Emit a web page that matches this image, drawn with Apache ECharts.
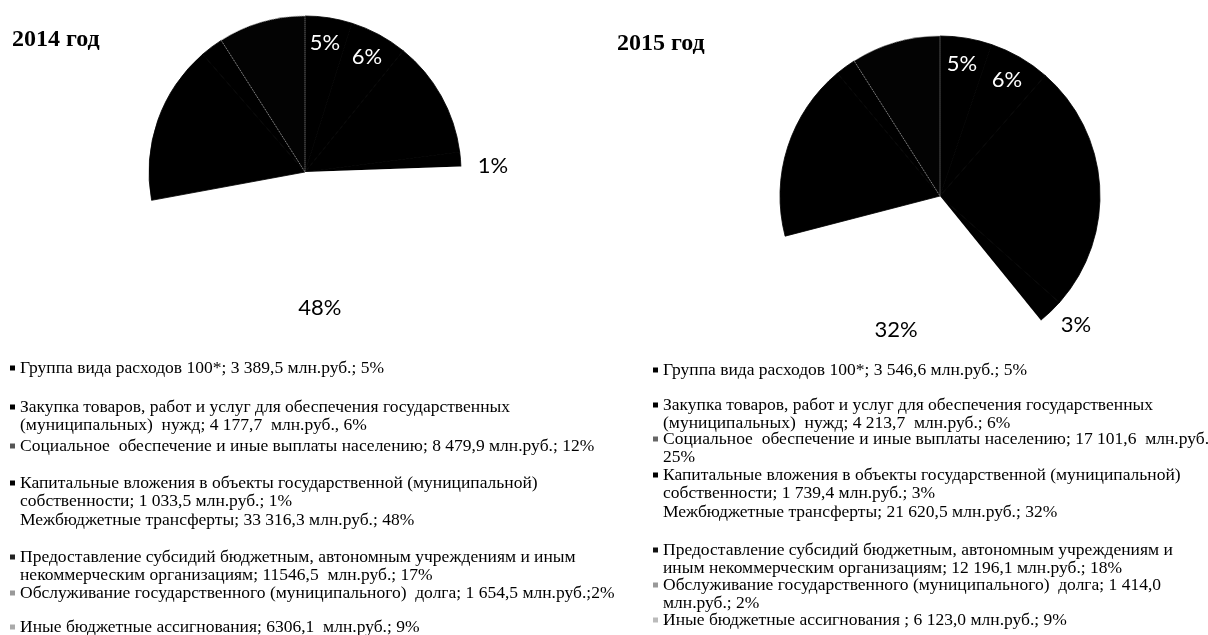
<!DOCTYPE html>
<html>
<head>
<meta charset="utf-8">
<script src="https://cdn.jsdelivr.net/npm/echarts@6/dist/echarts.min.js"></script>
<style>
html,body{margin:0;padding:0;background:#fff;}
#chart{width:1208px;height:635px;}
</style>
</head>
<body>
<div id="chart"></div>
<script>
// ---- data ----
const categories = [
  'Группа вида расходов 100*',
  'Закупка товаров, работ и услуг для обеспечения государственных (муниципальных) нужд',
  'Социальное обеспечение и иные выплаты населению',
  'Капитальные вложения в объекты государственной (муниципальной) собственности',
  'Межбюджетные трансферты',
  'Предоставление субсидий бюджетным, автономным учреждениям и иным некоммерческим организациям',
  'Обслуживание государственного (муниципального) долга',
  'Иные бюджетные ассигнования'
];
const years = ['2014 год', '2015 год'];
const values2014 = [3389.5, 4177.7, 8479.9, 1033.5, 33316.3, 11546.5, 1654.5, 6306.1];
const values2015 = [3546.6, 4213.7, 17101.6, 1739.4, 21620.5, 12196.1, 1414.0, 6123.0];
const legendText2014 = [
  'Группа вида расходов 100*; 3 389,5 млн.руб.; 5%',
  'Закупка товаров, работ и услуг для обеспечения государственных\n(муниципальных)  нужд; 4 177,7  млн.руб., 6%',
  'Социальное  обеспечение и иные выплаты населению; 8 479,9 млн.руб.; 12%',
  'Капитальные вложения в объекты государственной (муниципальной)\nсобственности; 1 033,5 млн.руб.; 1%',
  'Межбюджетные трансферты; 33 316,3 млн.руб.; 48%',
  'Предоставление субсидий бюджетным, автономным учреждениям и иным\nнекоммерческим организациям; 11546,5  млн.руб.; 17%',
  'Обслуживание государственного (муниципального)  долга; 1 654,5 млн.руб.;2%',
  'Иные бюджетные ассигнования; 6306,1  млн.руб.; 9%'
];
const legendText2015 = [
  'Группа вида расходов 100*; 3 546,6 млн.руб.; 5%',
  'Закупка товаров, работ и услуг для обеспечения государственных\n(муниципальных)  нужд; 4 213,7  млн.руб.; 6%',
  'Социальное  обеспечение и иные выплаты населению; 17 101,6  млн.руб.;\n25%',
  'Капитальные вложения в объекты государственной (муниципальной)\nсобственности; 1 739,4 млн.руб.; 3%',
  'Межбюджетные трансферты; 21 620,5 млн.руб.; 32%',
  'Предоставление субсидий бюджетным, автономным учреждениям и\nиным некоммерческим организациям; 12 196,1 млн.руб.; 18%',
  'Обслуживание государственного (муниципального)  долга; 1 414,0\nмлн.руб.; 2%',
  'Иные бюджетные ассигнования ; 6 123,0 млн.руб.; 9%'
];

// ---- styles / layout (not data) ----
const sliceColors = ['#000', '#000', '#000', '#000', '#fff', '#000', '#000', '#030303'];
const markerColors2014 = ['#000', '#000', '#555', '#000', '#fff', '#222', '#999', '#aaa'];
const markerColors2015 = ['#000', '#000', '#666', '#000', '#fff', '#111', '#999', '#bbb'];
const legendY2014 = [368, 407, 446, 483, 520, 557, 593, 627];
const legendY2015 = [370, 405, 439, 475, 512, 550, 585, 620];

const pies = [
  { values: values2014, center: [305, 172], r: 156, legend: legendText2014, markers: markerColors2014, ly: legendY2014, lx: 10, title: [12, 28],
    outFrac: 1.19, outFmt: '\n{d}%', outLH: 18, outPad: 0 },
  { values: values2015, center: [940, 196], r: 160, legend: legendText2015, markers: markerColors2015, ly: legendY2015, lx: 653, title: [617, 32],
    outFrac: 1.14, outFmt: '{d}%\n', outLH: 10, outPad: [0, 0, 0, 16] }
];
// label rings: which slices get a visible percentage, at which fraction of the radius, in which colour
const labelRings = [
  { idx: [0, 1], frac: 0.82, color: '#fff', outside: false },
  { idx: [4], frac: 0.86, color: '#000', outside: false },
  { idx: [3], frac: null, color: '#000', outside: true }
];

const LH = 18.5;
const series = [];
const legends = [];
const titles = [];

pies.forEach((p, k) => {
  titles.push({
    text: years[k], left: p.title[0], top: p.title[1], padding: 0,
    textStyle: { fontFamily: 'Liberation Serif', fontWeight: 'bold', fontSize: 24, color: '#000' }
  });
  // main pie
  series.push({
    type: 'pie', center: p.center, radius: p.r, startAngle: 90, clockwise: true,
    silent: true, avoidLabelOverlap: false, percentPrecision: 0,
    label: { show: false }, labelLine: { show: false },
    data: categories.map((c, i) => ({
      name: c, value: p.values[i],
      itemStyle: i === 7
        ? { color: sliceColors[i], borderColor: '#9a9a9a', borderWidth: 1, borderType: 'dotted' }
        : (sliceColors[i] === '#fff'
          ? { color: sliceColors[i], borderWidth: 0 }
          : { color: sliceColors[i], borderColor: sliceColors[i], borderWidth: 0.8 })
    }))
  });
  // transparent rings that only carry the percentage labels
  labelRings.forEach(ring => {
    const f = ring.outside ? p.outFrac : ring.frac;
    series.push({
      type: 'pie', center: p.center, radius: [p.r * (f - 0.15), p.r * (f + 0.15)],
      startAngle: 90, clockwise: true,
      silent: true, avoidLabelOverlap: false, percentPrecision: 0,
      itemStyle: { color: 'rgba(0,0,0,0)', borderWidth: 0 },
      emphasis: { disabled: true },
      label: { show: false }, labelLine: { show: false },
      data: categories.map((c, i) => ({
        name: c, value: p.values[i],
        label: ring.idx.indexOf(i) >= 0
          ? (ring.outside
            ? { show: true, position: 'inside', formatter: p.outFmt, lineHeight: p.outLH, padding: p.outPad,
                fontFamily: 'Lato', fontSize: 22, color: ring.color }
            : { show: true, position: 'inside', formatter: '{d}%', fontFamily: 'Lato', fontSize: 22, color: ring.color })
          : { show: false }
      }))
    });
  });
  // legend items, one component each so every entry sits where it does in the source
  categories.forEach((c, i) => {
    const txt = p.legend[i];
    const n = txt.split('\n').length;
    const shown = '\n'.repeat(n - 1) + txt; // pad above so the marker lines up with the first line
    legends.push({
      left: p.lx, top: p.ly[i] - (2 * n - 1) * LH / 2, padding: 0,
      orient: 'vertical', selectedMode: false, icon: 'rect', itemWidth: 5, itemHeight: 5,
      data: [{ name: c, itemStyle: { color: p.markers[i], borderWidth: 0 } }],
      formatter: () => shown,
      textStyle: { fontFamily: 'Liberation Serif', fontSize: 17.5, color: '#000', lineHeight: LH }
    });
  });
});

const chart = echarts.init(document.getElementById('chart'), null, { renderer: 'canvas' });
chart.setOption({
  backgroundColor: '#fff',
  animation: false,
  title: titles,
  legend: legends,
  series: series
});
</script>
</body>
</html>
